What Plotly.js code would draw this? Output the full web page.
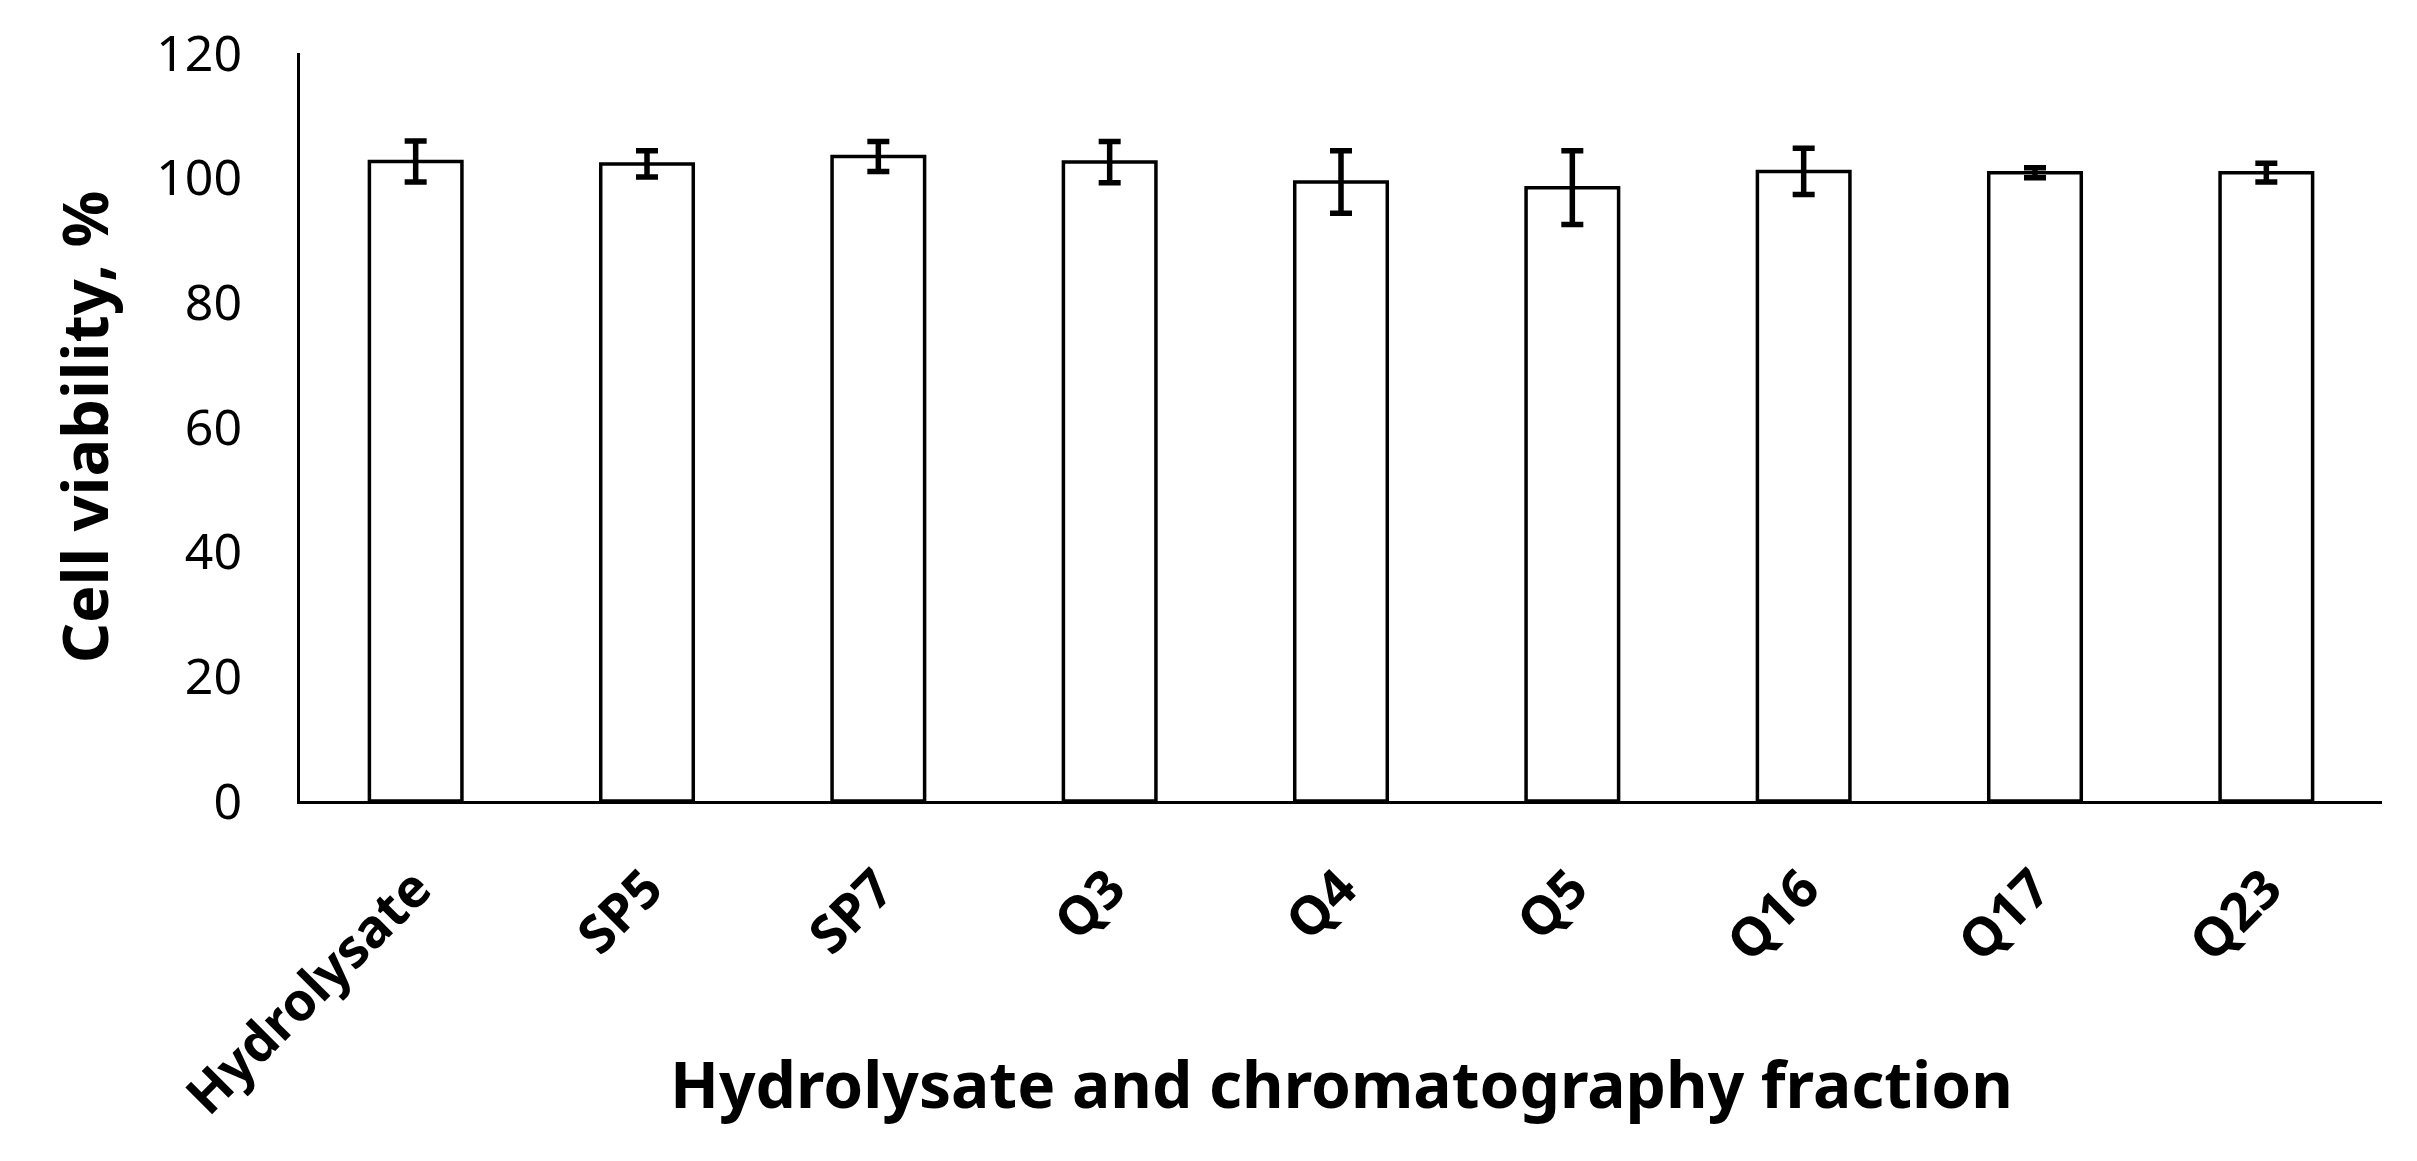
<!DOCTYPE html>
<html>
<head>
<meta charset="utf-8">
<script src="https://cdn.plot.ly/plotly-3.0.1.min.js"></script>
<style>html,body{margin:0;padding:0;background:#fff;}#chart{width:2417px;height:1161px;}</style>
</head>
<body>
<div id="chart"></div>
<script>
const categories = ["Hydrolysate", "SP5", "SP7", "Q3", "Q4", "Q5", "Q16", "Q17", "Q23"];
const viability = [102.6, 102.2, 103.4, 102.5, 99.3, 98.4, 101.0, 100.8, 100.8];
const errors = [3.3, 2.1, 2.4, 3.3, 5.0, 5.9, 3.7, 0.8, 1.5];
const yTicks = [0, 20, 40, 60, 80, 100, 120];
const xTitle = "Hydrolysate and chromatography fraction";
const yTitle = "Cell viability, %";

const trace = {
  type: "bar",
  x: categories,
  y: viability,
  marker: {color: "#ffffff", line: {color: "#000000", width: 3.5}},
  error_y: {type: "data", array: errors, visible: true, color: "#000000", thickness: 5.5, width: 11},
  hoverinfo: "x+y"
};

const layout = {
  width: 2417,
  height: 1161,
  margin: {l: 300, r: 35, t: 53, b: 360},
  paper_bgcolor: "#ffffff",
  plot_bgcolor: "#ffffff",
  bargap: 0.6,
  showlegend: false,
  font: {family: "Noto Sans, sans-serif", color: "#000000"},
  xaxis: {
    type: "category",
    tickangle: -45,
    showline: true,
    linecolor: "#000000",
    linewidth: 3,
    showgrid: false,
    zeroline: false,
    ticks: "",
    ticklabelstandoff: 32,
    tickfont: {family: "Noto Sans, sans-serif", size: 53, weight: "bold", color: "#000"}
  },
  yaxis: {
    range: [0, 120],
    tickvals: yTicks,
    ticktext: yTicks.map(String),
    showline: true,
    linecolor: "#000000",
    linewidth: 3,
    showgrid: false,
    zeroline: false,
    ticks: "",
    ticklabelstandoff: 45,
    tickfont: {family: "Noto Sans, sans-serif", size: 50, color: "#000"},
    title: {text: yTitle, font: {family: "Noto Sans, sans-serif", size: 63, weight: "bold", color: "#000"}, standoff: 28}
  },
  annotations: [{
    text: xTitle,
    xref: "paper", yref: "paper",
    x: 0.5, y: -0.378,
    xanchor: "center", yanchor: "middle",
    showarrow: false,
    font: {family: "Noto Sans, sans-serif", size: 64, weight: "bold", color: "#000"}
  }]
};

Plotly.newPlot("chart", [trace], layout, {displayModeBar: false, staticPlot: true});
</script>
</body>
</html>
